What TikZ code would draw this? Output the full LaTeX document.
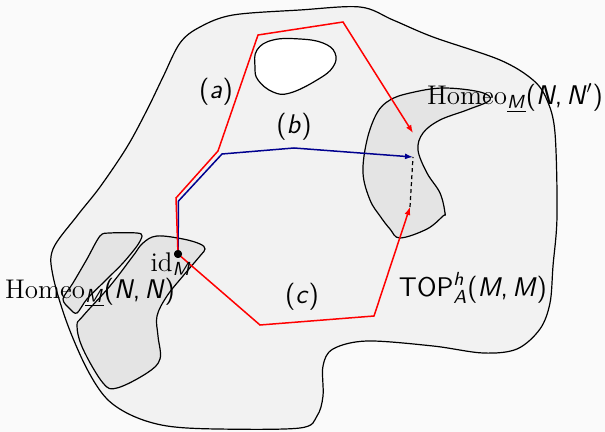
\documentclass[tikz,border=0pt]{standalone}
\usepackage{amsmath}
\usepackage{tikz}
\usetikzlibrary{arrows.meta}
\definecolor{bgcol}{HTML}{FAFAFA}
\definecolor{spacecol}{HTML}{F2F2F2}
\definecolor{homeocol}{HTML}{E4E4E4}
\definecolor{pathblue}{HTML}{00008F}
\newcommand{\sv}[1]{\textsf{\itshape #1}}

\begin{document}
\begin{tikzpicture}
	[x=0.5pt, y=-0.5pt, font=\fontsize{13.5}{16}\selectfont,
	blob_style/.style={draw=black, line width=0.6pt, fill=homeocol},
	path_red/.style={draw=red, line width=0.75pt},
	path_blue/.style={draw=pathblue, line width=0.75pt},
	tip_style/.style={-{Latex[length=4pt,width=3pt]}}]
	\fill[bgcol] (0,0) rectangle (605,432);
	\useasboundingbox (0,0) rectangle (605,432);

	% the space TOP
	\draw[fill=spacecol, line width=0.6pt] plot[smooth cycle, tension=0.55] coordinates {
		(300,10) (360,7) (393,20) (433,37) (500,60) (533,80) (547,100) (555,133)
		(557,216) (553,266) (550,303) (540,329) (517,349) (483,353) (433,346)
		(367,341) (333,349) (323,366) (323,396) (317,416) (300,428) (217,429)
		(167,426) (133,416) (107,399) (87,369) (67,323) (53,276) (53,249)
		(77,216) (100,187) (127,147) (147,110) (163,77) (180,43) (200,27) (233,15)};
	% hole
	\draw[fill=white, line width=0.6pt] plot[smooth cycle, tension=0.7] coordinates {
		(257,50) (273,40) (300,39) (323,43) (335,53) (333,67) (317,80) (290,93)
		(273,92) (258,80) (255,67)};
	% Homeo(N,N')
	\draw[blob_style] plot[smooth cycle, tension=0.6] coordinates {
		(390,100) (410,93) (443,88) (480,92) (490,100) (467,110) (440,120) (423,133)
		(418,150) (427,173) (440,193) (445,213) (443,216) (427,229) (400,238)
		(390,229) (380,216) (370,200) (363,173) (367,140) (377,113)};
	% Homeo(N,N)
	\draw[blob_style] plot[smooth cycle, tension=0.6] coordinates {
		(143,243) (157,236) (183,239) (200,244) (205,249) (200,256) (183,276)
		(167,296) (157,316) (158,336) (160,359) (147,373) (117,388) (103,383)
		(83,349) (77,326) (83,316) (110,286) (133,256)};
	\draw[blob_style] plot[smooth cycle, tension=0.5] coordinates {
		(100,236) (110,233) (137,233) (142,236) (137,246) (123,263) (107,279)
		(87,299) (77,313) (70,309) (63,299) (73,283) (87,259)};

	\node[circle, fill=black, inner sep=0pt, minimum size=4pt] (id) at (178,254) {};
	\coordinate (a1) at (176,198);
	\coordinate (a2) at (218,151);
	\coordinate (a3) at (258,35);
	\coordinate (a4) at (343,22);
	\coordinate (aend) at (413,133);
	\coordinate (b1) at (178.5,201);
	\coordinate (b2) at (222,154);
	\coordinate (b3) at (294,148);
	\coordinate (bend) at (413,157);
	\coordinate (c1) at (260,325);
	\coordinate (c2) at (374,316);
	\coordinate (cend) at (410,207);

	\draw[path_blue, tip_style] (id.center) -- (b1) -- (b2) -- (b3) -- (bend);
	\draw[path_red, tip_style] (id.center) -- (a1) -- (a2) -- (a3) -- (a4) -- (aend);
	\draw[path_red, tip_style] (id.center) -- (c1) -- (c2) -- (cend);
	\draw[black, line width=0.6pt, dash pattern=on 2pt off 1.5pt] (cend) -- (bend);
	\fill (id.center) circle (2pt);

	\node (la) at (216,92) {\textsf{(\sv{a})}};
	\node (lb) at (294,127) {\textsf{(\sv{b})}};
	\node (lc) at (302,297) {\textsf{(\sv{c})}};
	\node (idlabel) at (171,264) {id$_{\text{\sv{M}}}$};
	\node (homeo1) at (515,98) {Homeo$_{\underline{\text{\sv{M}}}}$\textsf{(\sv{N},\,\sv{N}$'$)}};
	\node (homeo2) at (90,292) {Homeo$_{\underline{\text{\sv{M}}}}$\textsf{(\sv{N},\,\sv{N})}};
	\node (top) at (473,288) {\textsf{TOP$^{\text{\sv{h}}}_{\text{\sv{A}}}$(\sv{M},\,\sv{M})}};
\end{tikzpicture}
\end{document}
